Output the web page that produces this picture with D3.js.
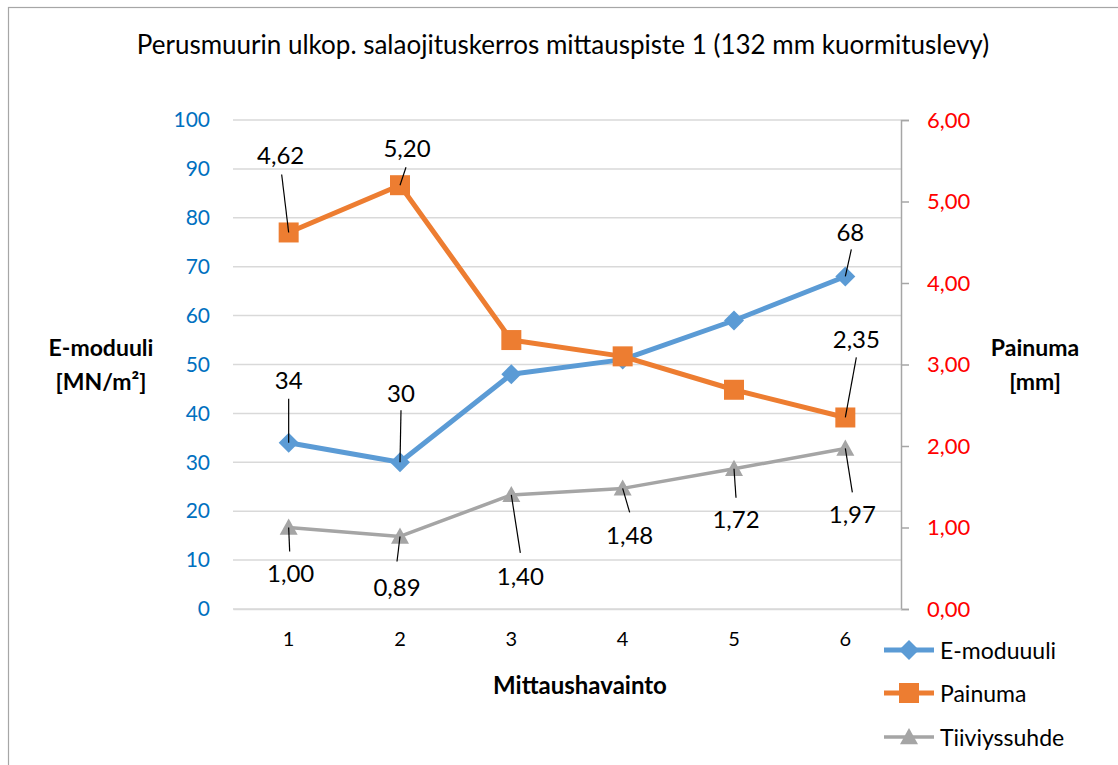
<!DOCTYPE html>
<html>
<head>
<meta charset="utf-8">
<script src="https://cdn.jsdelivr.net/npm/d3@7"></script>
<style>
  html, body { margin: 0; padding: 0; background: #fff; }
  svg text { font-family: Lato, "Open Sans", sans-serif; }
</style>
</head>
<body>
<div id="chart"></div>
<script>
// chart data
const categories = ["1", "2", "3", "4", "5", "6"];
const eModuuli = [34, 30, 48, 51, 59, 68];
const painuma = [4.62, 5.20, 3.30, 3.10, 2.69, 2.35];
const tiiviyssuhde = [1.00, 0.89, 1.40, 1.48, 1.72, 1.97];
const leftTicks = [0, 10, 20, 30, 40, 50, 60, 70, 80, 90, 100];
const rightTicks = [0, 1, 2, 3, 4, 5, 6];
const seriesNames = ["E-moduuli", "Painuma", "Tiiviyssuhde"];
const legendNames = ["E-moduuuli", "Painuma", "Tiiviyssuhde"];

// label placement (index, text dx/dy, leader dx/dy) -- layout only
const eLabels = [[0, 0, -63, 0, -44], [1, 1, -70, 1, -52], [5, 5, -45, 6, -27]];
const pLabels = [[0, -8, -78, -7, -58], [1, 7, -38, 6, -18], [5, 11, -79, 11, -60]];
const tLabels = [[0, 2, 45, 1, 24], [1, -3, 50, -3, 25], [2, 9, 81, 9, 58],
                 [3, 7, 46, 7, 24], [4, 2, 50, 2, 29], [5, 7, 65, 7, 44]];

let W = 1118, H = 765;
let plot = {left: 233, right: 901, top: 120, bottom: 609};

let fi = d3.formatLocale({decimal: ",", thousands: " ", grouping: [3], currency: ["", ""]});
let f2 = fi.format(".2f");

let svg = d3.select("#chart").append("svg")
    .attr("width", W).attr("height", H);

// outer border
svg.append("rect")
    .attr("x", 8.5).attr("y", 7.5)
    .attr("width", W + 20).attr("height", H + 20)
    .attr("fill", "#fff").attr("stroke", "#a6a6a6").attr("stroke-width", 1.2);

let x = d3.scaleBand().domain(categories).range([plot.left, plot.right]);
let yL = d3.scaleLinear().domain([0, 100]).range([plot.bottom, plot.top]);
let yR = d3.scaleLinear().domain([0, 6]).range([plot.bottom, plot.top]);
let cx = d => x(d) + x.bandwidth() / 2;

// gridlines
svg.append("g").selectAll("line")
    .data(leftTicks)
    .enter().append("line")
    .attr("x1", plot.left).attr("x2", plot.right)
    .attr("y1", d => yL(d)).attr("y2", d => yL(d))
    .attr("stroke", "#d9d9d9").attr("stroke-width", 1.5);

// left axis
let gl = svg.append("g")
    .attr("transform", "translate(" + plot.left + ",0)")
    .call(d3.axisLeft(yL).tickValues(leftTicks).tickSize(0).tickPadding(23));
gl.select(".domain").remove();
gl.selectAll("text").attr("fill", "#0070C0").style("font-size", "21px");

// right axis
let gr = svg.append("g")
    .attr("transform", "translate(" + plot.right + ",0)")
    .call(d3.axisRight(yR).tickValues(rightTicks).tickSize(8).tickPadding(18).tickFormat(f2));
gr.select(".domain").attr("stroke", "#a6a6a6").attr("stroke-width", 1.5);
gr.selectAll(".tick line").attr("stroke", "#a6a6a6").attr("stroke-width", 1.5);
gr.selectAll("text").attr("fill", "#FF0000").style("font-size", "22px");

// bottom axis
let gb = svg.append("g")
    .attr("transform", "translate(0," + plot.bottom + ")")
    .call(d3.axisBottom(x).tickSize(0).tickPadding(23));
gb.select(".domain").attr("stroke", "#d9d9d9").attr("stroke-width", 1.5);
gb.selectAll("text").attr("fill", "#000").style("font-size", "20px");

// titles
svg.append("text")
    .attr("x", 563).attr("y", 54)
    .attr("text-anchor", "middle")
    .style("font-size", "26px").attr("fill", "#000")
    .text("Perusmuurin ulkop. salaojituskerros mittauspiste 1 (132 mm kuormituslevy)");

svg.append("text")
    .attr("x", 580).attr("y", 694)
    .attr("text-anchor", "middle")
    .style("font-size", "24px").style("font-weight", "bold")
    .text("Mittaushavainto");

let lt = svg.append("text").attr("text-anchor", "middle")
    .style("font-size", "23px").style("font-weight", "bold");
lt.append("tspan").attr("x", 101).attr("y", 356).text("E-moduuli");
lt.append("tspan").attr("x", 101).attr("y", 390).text("[MN/m²]");

let rt = svg.append("text").attr("text-anchor", "middle")
    .style("font-size", "23px").style("font-weight", "bold");
rt.append("tspan").attr("x", 1035).attr("y", 356).text("Painuma");
rt.append("tspan").attr("x", 1035).attr("y", 390).text("[mm]");

// marker shapes
let diamond = s => `M0,${-s}L${s},0L0,${s}L${-s},0Z`;
let square = s => `M${-s},${-s}H${s}V${s}H${-s}Z`;
let triangle = s => `M0,${-s}L${s},${s * 0.8}L${-s},${s * 0.8}Z`;

let series = [
    {name: seriesNames[0], values: eModuuli, y: yL, color: "#5B9BD5", width: 5, marker: diamond(10)},
    {name: seriesNames[1], values: painuma, y: yR, color: "#ED7D31", width: 5, marker: square(10)},
    {name: seriesNames[2], values: tiiviyssuhde, y: yR, color: "#A5A5A5", width: 3.5, marker: triangle(9)}
];

series.forEach(s => {
    let line = d3.line()
        .x((d, i) => cx(categories[i]))
        .y(d => s.y(d));
    let g = svg.append("g").attr("class", "series");
    g.append("path")
        .datum(s.values)
        .attr("d", line)
        .attr("fill", "none")
        .attr("stroke", s.color)
        .attr("stroke-width", s.width)
        .attr("stroke-linejoin", "round");
    g.selectAll(".mk")
        .data(s.values)
        .enter().append("path")
        .attr("class", "mk")
        .attr("d", s.marker)
        .attr("transform", (d, i) => "translate(" + cx(categories[i]) + "," + s.y(d) + ")")
        .attr("fill", s.color);
});

// data labels with leader lines
let addLabels = function(values, yScale, specs, fmt) {
    let g = svg.append("g");
    specs.forEach(sp => {
        let [i, tdx, tdy, ldx, ldy] = sp;
        let px = cx(categories[i]), py = yScale(values[i]);
        g.append("line")
            .attr("x1", px + ldx).attr("y1", py + ldy)
            .attr("x2", px).attr("y2", py)
            .attr("stroke", "#000").attr("stroke-width", 1.2);
        g.append("text")
            .attr("x", px + tdx).attr("y", py + tdy)
            .attr("text-anchor", "middle")
            .attr("dominant-baseline", "central")
            .style("font-size", "24px").attr("fill", "#000")
            .text(fmt(values[i]));
    });
};
addLabels(eModuuli, yL, eLabels, d => String(d));
addLabels(painuma, yR, pLabels, f2);
addLabels(tiiviyssuhde, yR, tLabels, f2);

// legend
let leg = svg.append("g").attr("transform", "translate(884,0)");
let legY = [650, 693, 737];
series.forEach((s, i) => {
    let r = leg.append("g").attr("transform", "translate(0," + legY[i] + ")");
    r.append("line").attr("x1", 0).attr("x2", 50).attr("y1", 0).attr("y2", 0)
        .attr("stroke", s.color).attr("stroke-width", s.width);
    r.append("path").attr("d", s.marker).attr("transform", "translate(25,0)").attr("fill", s.color);
    r.append("text").attr("x", 56).attr("y", 0)
        .attr("dominant-baseline", "central")
        .style("font-size", "23px").attr("fill", "#000")
        .text(legendNames[i]);
});
</script>
</body>
</html>
